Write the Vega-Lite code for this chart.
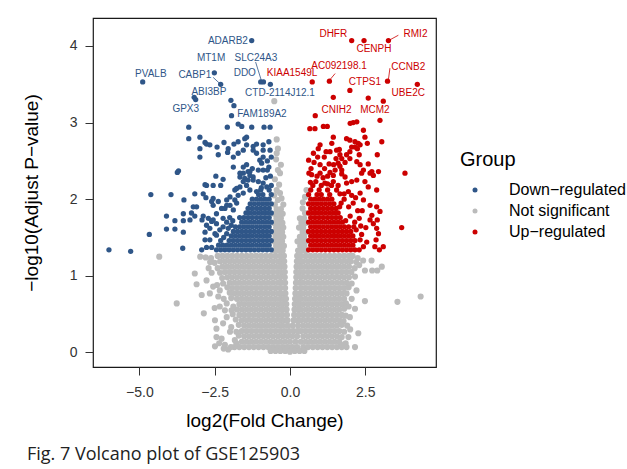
{
"$schema":"https://vega.github.io/schema/vega-lite/v6.json",
"width":343,"height":349,
"autosize":{"type":"none"},
"padding":{"left":93,"top":18,"right":191,"bottom":102},
"background":"white",
"config":{"view":{"stroke":"#1a1a1a","strokeWidth":1.2},"font":"Liberation Sans",
"axisX":{"tickSize":8,"tickColor":"#333","labelFontSize":14,"labelColor":"#333","labelPadding":10,"labelFont":"Liberation Sans","titleFont":"Liberation Sans","titleFontSize":19,"titleFontWeight":"normal","titleColor":"black","titlePadding":12,"domain":false,"grid":false},
"axisY":{"tickSize":8,"tickColor":"#333","labelFontSize":14,"labelColor":"#333","labelPadding":8,"labelFont":"Liberation Sans","titleFont":"Liberation Sans","titleFontSize":19,"titleFontWeight":"normal","titleColor":"black","titlePadding":28,"domain":false,"grid":false}},
"title":{"text":"Fig. 7  Volcano plot of GSE125903","orient":"bottom","anchor":"start","frame":"group","dx":-66,"offset":16,"font":"Open Sans","fontSize":18,"fontWeight":"normal","color":"#222"},
"datasets":{
"ns":[
{"x":-2.4,"y":1.26},{"x":-2.24,"y":1.26},{"x":-2.08,"y":1.26},{"x":-1.92,"y":1.26},{"x":-1.76,"y":1.26},{"x":-1.6,"y":1.26},{"x":-1.44,"y":1.26},{"x":-1.28,"y":1.26},{"x":-1.12,"y":1.26},{"x":-0.96,"y":1.26},{"x":-0.8,"y":1.26},{"x":-0.64,"y":1.26},{"x":-0.48,"y":1.26},{"x":-0.32,"y":1.26},{"x":-0.2,"y":1.26},{"x":0.24,"y":1.26},{"x":0.36,"y":1.26},{"x":0.52,"y":1.26},{"x":0.68,"y":1.26},{"x":0.84,"y":1.26},{"x":1.0,"y":1.26},{"x":1.16,"y":1.26},{"x":1.32,"y":1.26},{"x":1.48,"y":1.26},{"x":1.64,"y":1.26},{"x":1.8,"y":1.26},{"x":1.96,"y":1.26},{"x":2.08,"y":1.26},
{"x":-2.32,"y":1.19},{"x":-2.16,"y":1.19},{"x":-2.0,"y":1.19},{"x":-1.84,"y":1.19},{"x":-1.68,"y":1.19},{"x":-1.52,"y":1.19},{"x":-1.36,"y":1.19},{"x":-1.2,"y":1.19},{"x":-1.04,"y":1.19},{"x":-0.88,"y":1.19},{"x":-0.72,"y":1.19},{"x":-0.56,"y":1.19},{"x":-0.4,"y":1.19},{"x":-0.28,"y":1.19},{"x":-0.19,"y":1.19},{"x":0.23,"y":1.19},{"x":0.32,"y":1.19},{"x":0.44,"y":1.19},{"x":0.6,"y":1.19},{"x":0.76,"y":1.19},{"x":0.92,"y":1.19},{"x":1.08,"y":1.19},{"x":1.24,"y":1.19},{"x":1.4,"y":1.19},{"x":1.56,"y":1.19},{"x":1.72,"y":1.19},{"x":1.88,"y":1.19},{"x":2.02,"y":1.19},
{"x":-2.24,"y":1.12},{"x":-2.08,"y":1.12},{"x":-1.92,"y":1.12},{"x":-1.76,"y":1.12},{"x":-1.6,"y":1.12},{"x":-1.44,"y":1.12},{"x":-1.28,"y":1.12},{"x":-1.12,"y":1.12},{"x":-0.96,"y":1.12},{"x":-0.8,"y":1.12},{"x":-0.64,"y":1.12},{"x":-0.48,"y":1.12},{"x":-0.32,"y":1.12},{"x":-0.18,"y":1.12},{"x":0.22,"y":1.12},{"x":0.36,"y":1.12},{"x":0.52,"y":1.12},{"x":0.68,"y":1.12},{"x":0.84,"y":1.12},{"x":1.0,"y":1.12},{"x":1.16,"y":1.12},{"x":1.32,"y":1.12},{"x":1.48,"y":1.12},{"x":1.64,"y":1.12},{"x":1.8,"y":1.12},{"x":1.96,"y":1.12},
{"x":-2.16,"y":1.05},{"x":-2.0,"y":1.05},{"x":-1.84,"y":1.05},{"x":-1.68,"y":1.05},{"x":-1.52,"y":1.05},{"x":-1.36,"y":1.05},{"x":-1.2,"y":1.05},{"x":-1.04,"y":1.05},{"x":-0.88,"y":1.05},{"x":-0.72,"y":1.05},{"x":-0.56,"y":1.05},{"x":-0.4,"y":1.05},{"x":-0.28,"y":1.05},{"x":-0.17,"y":1.05},{"x":0.21,"y":1.05},{"x":0.32,"y":1.05},{"x":0.44,"y":1.05},{"x":0.6,"y":1.05},{"x":0.76,"y":1.05},{"x":0.92,"y":1.05},{"x":1.08,"y":1.05},{"x":1.24,"y":1.05},{"x":1.4,"y":1.05},{"x":1.56,"y":1.05},{"x":1.72,"y":1.05},{"x":1.88,"y":1.05},{"x":2.04,"y":1.05},
{"x":-2.08,"y":0.98},{"x":-1.92,"y":0.98},{"x":-1.76,"y":0.98},{"x":-1.6,"y":0.98},{"x":-1.44,"y":0.98},{"x":-1.28,"y":0.98},{"x":-1.12,"y":0.98},{"x":-0.96,"y":0.98},{"x":-0.8,"y":0.98},{"x":-0.64,"y":0.98},{"x":-0.48,"y":0.98},{"x":-0.32,"y":0.98},{"x":-0.17,"y":0.98},{"x":0.21,"y":0.98},{"x":0.36,"y":0.98},{"x":0.52,"y":0.98},{"x":0.68,"y":0.98},{"x":0.84,"y":0.98},{"x":1.0,"y":0.98},{"x":1.16,"y":0.98},{"x":1.32,"y":0.98},{"x":1.48,"y":0.98},{"x":1.64,"y":0.98},{"x":1.8,"y":0.98},{"x":1.96,"y":0.98},
{"x":-2.0,"y":0.91},{"x":-1.84,"y":0.91},{"x":-1.68,"y":0.91},{"x":-1.52,"y":0.91},{"x":-1.36,"y":0.91},{"x":-1.2,"y":0.91},{"x":-1.04,"y":0.91},{"x":-0.88,"y":0.91},{"x":-0.72,"y":0.91},{"x":-0.56,"y":0.91},{"x":-0.4,"y":0.91},{"x":-0.28,"y":0.91},{"x":-0.16,"y":0.91},{"x":0.2,"y":0.91},{"x":0.32,"y":0.91},{"x":0.44,"y":0.91},{"x":0.6,"y":0.91},{"x":0.76,"y":0.91},{"x":0.92,"y":0.91},{"x":1.08,"y":0.91},{"x":1.24,"y":0.91},{"x":1.4,"y":0.91},{"x":1.56,"y":0.91},{"x":1.72,"y":0.91},{"x":1.88,"y":0.91},
{"x":-1.92,"y":0.84},{"x":-1.76,"y":0.84},{"x":-1.6,"y":0.84},{"x":-1.44,"y":0.84},{"x":-1.28,"y":0.84},{"x":-1.12,"y":0.84},{"x":-0.96,"y":0.84},{"x":-0.8,"y":0.84},{"x":-0.64,"y":0.84},{"x":-0.48,"y":0.84},{"x":-0.32,"y":0.84},{"x":-0.16,"y":0.84},{"x":0.19,"y":0.84},{"x":0.36,"y":0.84},{"x":0.52,"y":0.84},{"x":0.68,"y":0.84},{"x":0.84,"y":0.84},{"x":1.0,"y":0.84},{"x":1.16,"y":0.84},{"x":1.32,"y":0.84},{"x":1.48,"y":0.84},{"x":1.64,"y":0.84},{"x":1.8,"y":0.84},
{"x":-1.84,"y":0.77},{"x":-1.68,"y":0.77},{"x":-1.52,"y":0.77},{"x":-1.36,"y":0.77},{"x":-1.2,"y":0.77},{"x":-1.04,"y":0.77},{"x":-0.88,"y":0.77},{"x":-0.72,"y":0.77},{"x":-0.56,"y":0.77},{"x":-0.4,"y":0.77},{"x":-0.28,"y":0.77},{"x":-0.15,"y":0.77},{"x":0.18,"y":0.77},{"x":0.32,"y":0.77},{"x":0.44,"y":0.77},{"x":0.6,"y":0.77},{"x":0.76,"y":0.77},{"x":0.92,"y":0.77},{"x":1.08,"y":0.77},{"x":1.24,"y":0.77},{"x":1.4,"y":0.77},{"x":1.56,"y":0.77},{"x":1.72,"y":0.77},{"x":1.88,"y":0.77},
{"x":-1.76,"y":0.7},{"x":-1.6,"y":0.7},{"x":-1.44,"y":0.7},{"x":-1.28,"y":0.7},{"x":-1.12,"y":0.7},{"x":-0.96,"y":0.7},{"x":-0.8,"y":0.7},{"x":-0.64,"y":0.7},{"x":-0.48,"y":0.7},{"x":-0.32,"y":0.7},{"x":-0.2,"y":0.7},{"x":-0.13,"y":0.7},{"x":0.17,"y":0.7},{"x":0.25,"y":0.7},{"x":0.36,"y":0.7},{"x":0.52,"y":0.7},{"x":0.68,"y":0.7},{"x":0.84,"y":0.7},{"x":1.0,"y":0.7},{"x":1.16,"y":0.7},{"x":1.32,"y":0.7},{"x":1.48,"y":0.7},{"x":1.64,"y":0.7},{"x":1.8,"y":0.7},
{"x":-1.68,"y":0.63},{"x":-1.52,"y":0.63},{"x":-1.36,"y":0.63},{"x":-1.2,"y":0.63},{"x":-1.04,"y":0.63},{"x":-0.88,"y":0.63},{"x":-0.72,"y":0.63},{"x":-0.56,"y":0.63},{"x":-0.4,"y":0.63},{"x":-0.26,"y":0.63},{"x":-0.12,"y":0.63},{"x":0.16,"y":0.63},{"x":0.3,"y":0.63},{"x":0.44,"y":0.63},{"x":0.6,"y":0.63},{"x":0.76,"y":0.63},{"x":0.92,"y":0.63},{"x":1.08,"y":0.63},{"x":1.24,"y":0.63},{"x":1.4,"y":0.63},{"x":1.56,"y":0.63},{"x":1.72,"y":0.63},
{"x":-1.76,"y":0.56},{"x":-1.6,"y":0.56},{"x":-1.44,"y":0.56},{"x":-1.28,"y":0.56},{"x":-1.12,"y":0.56},{"x":-0.96,"y":0.56},{"x":-0.8,"y":0.56},{"x":-0.64,"y":0.56},{"x":-0.48,"y":0.56},{"x":-0.32,"y":0.56},{"x":-0.2,"y":0.56},{"x":-0.11,"y":0.56},{"x":0.15,"y":0.56},{"x":0.25,"y":0.56},{"x":0.36,"y":0.56},{"x":0.52,"y":0.56},{"x":0.68,"y":0.56},{"x":0.84,"y":0.56},{"x":1.0,"y":0.56},{"x":1.16,"y":0.56},{"x":1.32,"y":0.56},{"x":1.48,"y":0.56},{"x":1.64,"y":0.56},
{"x":-1.68,"y":0.49},{"x":-1.52,"y":0.49},{"x":-1.36,"y":0.49},{"x":-1.2,"y":0.49},{"x":-1.04,"y":0.49},{"x":-0.88,"y":0.49},{"x":-0.72,"y":0.49},{"x":-0.56,"y":0.49},{"x":-0.4,"y":0.49},{"x":-0.26,"y":0.49},{"x":-0.1,"y":0.49},{"x":0.14,"y":0.49},{"x":0.29,"y":0.49},{"x":0.44,"y":0.49},{"x":0.6,"y":0.49},{"x":0.76,"y":0.49},{"x":0.92,"y":0.49},{"x":1.08,"y":0.49},{"x":1.24,"y":0.49},{"x":1.4,"y":0.49},{"x":1.56,"y":0.49},{"x":1.72,"y":0.49},
{"x":-1.6,"y":0.42},{"x":-1.44,"y":0.42},{"x":-1.28,"y":0.42},{"x":-1.12,"y":0.42},{"x":-0.96,"y":0.42},{"x":-0.8,"y":0.42},{"x":-0.64,"y":0.42},{"x":-0.48,"y":0.42},{"x":-0.32,"y":0.42},{"x":-0.19,"y":0.42},{"x":-0.08,"y":0.42},{"x":0.12,"y":0.42},{"x":0.24,"y":0.42},{"x":0.36,"y":0.42},{"x":0.52,"y":0.42},{"x":0.68,"y":0.42},{"x":0.84,"y":0.42},{"x":1.0,"y":0.42},{"x":1.16,"y":0.42},{"x":1.32,"y":0.42},{"x":1.48,"y":0.42},{"x":1.64,"y":0.42},
{"x":-1.52,"y":0.35},{"x":-1.36,"y":0.35},{"x":-1.2,"y":0.35},{"x":-1.04,"y":0.35},{"x":-0.88,"y":0.35},{"x":-0.72,"y":0.35},{"x":-0.56,"y":0.35},{"x":-0.4,"y":0.35},{"x":-0.25,"y":0.35},{"x":-0.08,"y":0.35},{"x":0.09,"y":0.35},{"x":0.27,"y":0.35},{"x":0.44,"y":0.35},{"x":0.6,"y":0.35},{"x":0.76,"y":0.35},{"x":0.92,"y":0.35},{"x":1.08,"y":0.35},{"x":1.24,"y":0.35},{"x":1.4,"y":0.35},{"x":1.56,"y":0.35},
{"x":-1.6,"y":0.28},{"x":-1.44,"y":0.28},{"x":-1.28,"y":0.28},{"x":-1.12,"y":0.28},{"x":-0.96,"y":0.28},{"x":-0.8,"y":0.28},{"x":-0.64,"y":0.28},{"x":-0.48,"y":0.28},{"x":-0.32,"y":0.28},{"x":-0.17,"y":0.28},{"x":-0.02,"y":0.28},{"x":0.12,"y":0.28},{"x":0.25,"y":0.28},{"x":0.36,"y":0.28},{"x":0.52,"y":0.28},{"x":0.68,"y":0.28},{"x":0.84,"y":0.28},{"x":1.0,"y":0.28},{"x":1.16,"y":0.28},{"x":1.32,"y":0.28},{"x":1.48,"y":0.28},{"x":1.64,"y":0.28},
{"x":-1.52,"y":0.21},{"x":-1.36,"y":0.21},{"x":-1.2,"y":0.21},{"x":-1.04,"y":0.21},{"x":-0.88,"y":0.21},{"x":-0.72,"y":0.21},{"x":-0.56,"y":0.21},{"x":-0.4,"y":0.21},{"x":-0.24,"y":0.21},{"x":-0.08,"y":0.21},{"x":0.08,"y":0.21},{"x":0.24,"y":0.21},{"x":0.44,"y":0.21},{"x":0.6,"y":0.21},{"x":0.76,"y":0.21},{"x":0.92,"y":0.21},{"x":1.08,"y":0.21},{"x":1.24,"y":0.21},{"x":1.4,"y":0.21},{"x":1.56,"y":0.21},
{"x":-1.6,"y":0.14},{"x":-1.44,"y":0.14},{"x":-1.28,"y":0.14},{"x":-1.12,"y":0.14},{"x":-0.96,"y":0.14},{"x":-0.8,"y":0.14},{"x":-0.64,"y":0.14},{"x":-0.48,"y":0.14},{"x":-0.32,"y":0.14},{"x":-0.16,"y":0.14},{"x":0.0,"y":0.14},{"x":0.18,"y":0.14},{"x":0.36,"y":0.14},{"x":0.52,"y":0.14},{"x":0.68,"y":0.14},{"x":0.84,"y":0.14},{"x":1.0,"y":0.14},{"x":1.16,"y":0.14},{"x":1.32,"y":0.14},{"x":1.48,"y":0.14},{"x":1.64,"y":0.14},
{"x":-1.84,"y":0.07},{"x":-1.68,"y":0.07},{"x":-1.52,"y":0.07},{"x":-1.36,"y":0.07},{"x":-1.2,"y":0.07},{"x":-1.04,"y":0.07},{"x":-0.88,"y":0.07},{"x":-0.72,"y":0.07},{"x":-0.56,"y":0.07},{"x":-0.4,"y":0.07},{"x":-0.24,"y":0.07},{"x":-0.08,"y":0.07},{"x":0.08,"y":0.07},{"x":0.24,"y":0.07},{"x":0.44,"y":0.07},{"x":0.6,"y":0.07},{"x":0.76,"y":0.07},{"x":0.92,"y":0.07},{"x":1.08,"y":0.07},{"x":1.24,"y":0.07},{"x":1.4,"y":0.07},{"x":1.56,"y":0.07},{"x":1.72,"y":0.07},
{"x":-0.64,"y":0.02},{"x":-0.48,"y":0.02},{"x":-0.32,"y":0.02},{"x":-0.16,"y":0.02},{"x":0.0,"y":0.01},{"x":0.16,"y":0.02},{"x":0.32,"y":0.02},{"x":0.48,"y":0.02},
{"x":-2.62,"y":1.23},{"x":-2.8,"y":1.24},{"x":-2.98,"y":1.25},{"x":-4.34,"y":1.25},{"x":-2.5,"y":1.17},{"x":-2.65,"y":1.18},{"x":-2.4,"y":1.1},{"x":-2.7,"y":1.1},{"x":-2.32,"y":1.04},{"x":-2.6,"y":1.04},{"x":-3.16,"y":1.03},{"x":-2.25,"y":0.97},{"x":-2.77,"y":0.94},{"x":-2.22,"y":0.9},{"x":-2.42,"y":0.88},{"x":-3.1,"y":0.89},{"x":-2.08,"y":0.85},{"x":-2.33,"y":0.81},{"x":-2.55,"y":0.86},{"x":-2.0,"y":0.78},{"x":-2.66,"y":0.77},{"x":-2.93,"y":0.75},{"x":-2.38,"y":0.73},{"x":-1.95,"y":0.71},{"x":-2.2,"y":0.7},{"x":-1.88,"y":0.6},{"x":-2.1,"y":0.64},{"x":-2.33,"y":0.6},{"x":-3.76,"y":0.64},{"x":-1.94,"y":0.55},{"x":-2.16,"y":0.55},{"x":-2.5,"y":0.58},{"x":-1.9,"y":0.5},{"x":-2.1,"y":0.46},{"x":-2.86,"y":0.51},{"x":-1.8,"y":0.43},{"x":-2.22,"y":0.38},{"x":-2.49,"y":0.42},{"x":-1.7,"y":0.36},{"x":-1.95,"y":0.33},{"x":-1.99,"y":0.27},{"x":-2.44,"y":0.31},{"x":-1.78,"y":0.27},{"x":-1.7,"y":0.22},{"x":-1.83,"y":0.16},{"x":-2.27,"y":0.18},{"x":-2.44,"y":0.2},{"x":-1.78,"y":0.12},{"x":-2.16,"y":0.1},{"x":-1.96,"y":0.07},{"x":-2.49,"y":0.08},{"x":-2.2,"y":0.05},{"x":-2.05,"y":0.04},{"x":-2.35,"y":0.12},
{"x":2.25,"y":1.23},{"x":2.43,"y":1.2},{"x":2.71,"y":1.2},{"x":2.2,"y":1.18},{"x":2.15,"y":1.1},{"x":2.3,"y":1.14},{"x":3.05,"y":1.12},{"x":2.49,"y":1.07},{"x":2.73,"y":1.07},{"x":2.9,"y":1.07},{"x":2.16,"y":0.99},{"x":2.05,"y":0.9},{"x":1.95,"y":0.85},{"x":2.21,"y":0.81},{"x":2.05,"y":0.7},{"x":2.49,"y":0.67},{"x":1.86,"y":0.64},{"x":3.57,"y":0.66},{"x":4.34,"y":0.73},{"x":1.8,"y":0.57},{"x":1.95,"y":0.6},{"x":2.16,"y":0.57},{"x":1.99,"y":0.46},{"x":1.85,"y":0.48},{"x":1.78,"y":0.41},{"x":1.72,"y":0.36},{"x":1.9,"y":0.35},{"x":2.0,"y":0.3},{"x":2.27,"y":0.25},{"x":1.8,"y":0.27},{"x":1.72,"y":0.2},{"x":1.94,"y":0.2},{"x":1.85,"y":0.12},{"x":1.88,"y":0.07},{"x":2.16,"y":0.07},{"x":1.7,"y":0.1},
{"x":-0.52,"y":1.33},{"x":-0.38,"y":1.33},{"x":-0.24,"y":1.33},{"x":-0.46,"y":1.39},{"x":-0.32,"y":1.39},{"x":-0.2,"y":1.39},{"x":-0.54,"y":1.45},{"x":-0.4,"y":1.45},{"x":-0.26,"y":1.45},{"x":-0.48,"y":1.51},{"x":-0.34,"y":1.51},{"x":-0.22,"y":1.51},{"x":-0.53,"y":1.57},{"x":-0.39,"y":1.57},{"x":-0.26,"y":1.57},{"x":-0.46,"y":1.63},{"x":-0.32,"y":1.63},{"x":-0.22,"y":1.63},{"x":-0.52,"y":1.69},{"x":-0.38,"y":1.69},{"x":-0.25,"y":1.69},{"x":-0.45,"y":1.75},{"x":-0.3,"y":1.75},{"x":-0.52,"y":1.81},{"x":-0.37,"y":1.81},{"x":-0.24,"y":1.81},{"x":-0.44,"y":1.87},{"x":-0.3,"y":1.87},{"x":-0.5,"y":1.93},{"x":-0.22,"y":1.93},{"x":-0.4,"y":1.99},{"x":-0.28,"y":2.01},{"x":-0.52,"y":2.05},{"x":-0.33,"y":2.08},{"x":-0.44,"y":2.12},{"x":-0.36,"y":2.19},{"x":-0.5,"y":2.26},{"x":-0.33,"y":2.34},{"x":-0.4,"y":2.38},{"x":-0.3,"y":2.45},{"x":-0.46,"y":2.52},{"x":-0.44,"y":2.6},{"x":-0.4,"y":2.66},{"x":-0.44,"y":2.78},{"x":-0.52,"y":3.28},
{"x":0.27,"y":1.33},{"x":0.41,"y":1.33},{"x":0.54,"y":1.33},{"x":0.34,"y":1.39},{"x":0.48,"y":1.39},{"x":0.25,"y":1.45},{"x":0.4,"y":1.45},{"x":0.53,"y":1.45},{"x":0.33,"y":1.51},{"x":0.47,"y":1.51},{"x":0.42,"y":1.57},{"x":0.54,"y":1.57},{"x":0.3,"y":1.63},{"x":0.44,"y":1.63},{"x":0.38,"y":1.69},{"x":0.52,"y":1.69},{"x":0.33,"y":1.75},{"x":0.47,"y":1.75},{"x":0.5,"y":1.82},{"x":0.42,"y":1.88},{"x":0.43,"y":1.96},{"x":0.5,"y":2.03},{"x":0.55,"y":2.12}
],
"down":[
{"x":-0.62,"y":1.34},{"x":-0.76,"y":1.34},{"x":-0.9,"y":1.34},{"x":-1.04,"y":1.34},{"x":-1.18,"y":1.34},{"x":-1.32,"y":1.34},{"x":-1.46,"y":1.34},{"x":-1.6,"y":1.34},{"x":-1.74,"y":1.34},{"x":-1.88,"y":1.34},{"x":-2.02,"y":1.34},{"x":-2.16,"y":1.34},{"x":-2.3,"y":1.34},{"x":-2.44,"y":1.34},
{"x":-0.69,"y":1.4},{"x":-0.83,"y":1.4},{"x":-0.97,"y":1.4},{"x":-1.11,"y":1.4},{"x":-1.25,"y":1.4},{"x":-1.39,"y":1.4},{"x":-1.53,"y":1.4},{"x":-1.67,"y":1.4},{"x":-1.81,"y":1.4},{"x":-1.95,"y":1.4},{"x":-2.09,"y":1.4},{"x":-2.23,"y":1.4},{"x":-2.37,"y":1.4},
{"x":-0.62,"y":1.46},{"x":-0.76,"y":1.46},{"x":-0.9,"y":1.46},{"x":-1.04,"y":1.46},{"x":-1.18,"y":1.46},{"x":-1.32,"y":1.46},{"x":-1.46,"y":1.46},{"x":-1.6,"y":1.46},{"x":-1.74,"y":1.46},{"x":-1.88,"y":1.46},{"x":-2.02,"y":1.46},
{"x":-0.69,"y":1.52},{"x":-0.83,"y":1.52},{"x":-0.97,"y":1.52},{"x":-1.11,"y":1.52},{"x":-1.25,"y":1.52},{"x":-1.39,"y":1.52},{"x":-1.53,"y":1.52},{"x":-1.67,"y":1.52},{"x":-1.81,"y":1.52},{"x":-1.95,"y":1.52},
{"x":-0.62,"y":1.58},{"x":-0.76,"y":1.58},{"x":-0.9,"y":1.58},{"x":-1.04,"y":1.58},{"x":-1.18,"y":1.58},{"x":-1.32,"y":1.58},{"x":-1.46,"y":1.58},{"x":-1.6,"y":1.58},{"x":-1.74,"y":1.58},{"x":-1.88,"y":1.58},
{"x":-0.69,"y":1.64},{"x":-0.83,"y":1.64},{"x":-0.97,"y":1.64},{"x":-1.11,"y":1.64},{"x":-1.25,"y":1.64},{"x":-1.39,"y":1.64},{"x":-1.53,"y":1.64},{"x":-1.67,"y":1.64},{"x":-1.81,"y":1.64},
{"x":-0.62,"y":1.7},{"x":-0.76,"y":1.7},{"x":-0.9,"y":1.7},{"x":-1.04,"y":1.7},{"x":-1.18,"y":1.7},{"x":-1.32,"y":1.7},{"x":-1.46,"y":1.7},{"x":-1.6,"y":1.7},
{"x":-0.69,"y":1.76},{"x":-0.83,"y":1.76},{"x":-0.97,"y":1.76},{"x":-1.11,"y":1.76},{"x":-1.25,"y":1.76},{"x":-1.39,"y":1.76},{"x":-1.53,"y":1.76},{"x":-1.67,"y":1.76},
{"x":-0.62,"y":1.82},{"x":-0.76,"y":1.82},{"x":-0.9,"y":1.82},{"x":-1.04,"y":1.82},{"x":-1.18,"y":1.82},{"x":-1.32,"y":1.82},{"x":-1.46,"y":1.82},
{"x":-0.69,"y":1.88},{"x":-0.83,"y":1.88},{"x":-0.97,"y":1.88},{"x":-1.11,"y":1.88},{"x":-1.25,"y":1.88},{"x":-1.39,"y":1.88},
{"x":-0.62,"y":1.94},{"x":-0.76,"y":1.94},{"x":-0.9,"y":1.94},{"x":-1.04,"y":1.94},{"x":-1.18,"y":1.94},{"x":-1.32,"y":1.94},
{"x":-0.69,"y":2.0},{"x":-0.83,"y":2.0},{"x":-0.97,"y":2.0},{"x":-1.11,"y":2.0},{"x":-1.25,"y":2.0},
{"x":-0.62,"y":2.06},{"x":-0.9,"y":2.06},{"x":-1.04,"y":2.06},{"x":-0.69,"y":2.12},{"x":-0.97,"y":2.12},{"x":-0.62,"y":2.18},
{"x":-1.27,"y":4.07},{"x":-4.89,"y":3.53},{"x":-2.51,"y":3.65},{"x":-2.3,"y":3.5},{"x":-3.18,"y":3.33},{"x":-3.13,"y":3.3},{"x":-0.97,"y":3.53},{"x":-0.88,"y":3.53},{"x":-0.65,"y":3.5},{"x":-1.96,"y":3.29},{"x":-1.86,"y":3.22},{"x":-1.94,"y":3.09},
{"x":-3.36,"y":2.94},{"x":-2.08,"y":2.94},{"x":-1.72,"y":2.98},{"x":-1.6,"y":2.95},{"x":-1.27,"y":2.94},{"x":-0.86,"y":2.94},{"x":-0.66,"y":2.94},
{"x":-3.36,"y":2.79},{"x":-2.99,"y":2.81},{"x":-2.82,"y":2.74},{"x":-2.77,"y":2.72},{"x":-2.42,"y":2.68},{"x":-2.19,"y":2.74},{"x":-2.05,"y":2.66},{"x":-1.86,"y":2.72},{"x":-1.72,"y":2.75},{"x":-1.5,"y":2.79},{"x":-1.44,"y":2.81},{"x":-1.22,"y":2.69},{"x":-1.11,"y":2.72},{"x":-0.89,"y":2.71},{"x":-0.7,"y":2.75},{"x":-1.44,"y":2.71},{"x":-2.66,"y":2.71},
{"x":-2.99,"y":2.66},{"x":-2.38,"y":2.58},{"x":-2.99,"y":2.55},{"x":-1.88,"y":2.55},{"x":-1.72,"y":2.6},{"x":-1.55,"y":2.64},{"x":-1.11,"y":2.6},{"x":-0.89,"y":2.64},{"x":-0.89,"y":2.55},{"x":-2.07,"y":2.61},{"x":-1.22,"y":2.64},{"x":-1.0,"y":2.51},
{"x":-0.94,"y":2.47},{"x":-0.89,"y":2.38},{"x":-0.75,"y":2.38},{"x":-2.46,"y":2.3},{"x":-2.22,"y":2.26},{"x":-1.88,"y":2.42},{"x":-3.74,"y":2.35},{"x":-3.7,"y":2.37},{"x":-1.44,"y":2.45},{"x":-1.55,"y":2.42},{"x":-1.39,"y":2.36},{"x":-1.55,"y":2.34},{"x":-1.66,"y":2.34},{"x":-1.33,"y":2.36},{"x":-1.22,"y":2.29},{"x":-1.05,"y":2.38},
{"x":-1.66,"y":2.29},{"x":-1.5,"y":2.27},{"x":-1.33,"y":2.31},{"x":-1.22,"y":2.25},{"x":-1.05,"y":2.23},{"x":-0.89,"y":2.21},{"x":-0.77,"y":2.16},{"x":-1.44,"y":2.18},{"x":-1.66,"y":2.16},{"x":-1.83,"y":2.12},{"x":-1.55,"y":2.23},{"x":-1.39,"y":2.25},{"x":-1.77,"y":2.14},{"x":-1.33,"y":2.12},{"x":-1.11,"y":2.1},{"x":-1.55,"y":2.08},
{"x":-1.72,"y":2.05},{"x":-1.99,"y":2.03},{"x":-1.83,"y":1.99},
{"x":-2.77,"y":2.18},{"x":-2.55,"y":2.18},{"x":-2.3,"y":2.18},{"x":-3.16,"y":2.07},{"x":-2.88,"y":2.07},{"x":-4.62,"y":2.06},{"x":-3.95,"y":2.06},{"x":-3.52,"y":1.99},{"x":-2.79,"y":2.02},{"x":-3.21,"y":1.9},{"x":-3.54,"y":1.81},{"x":-3.27,"y":1.82},{"x":-3.16,"y":1.78},{"x":-4.1,"y":1.78},{"x":-3.82,"y":1.72},{"x":-3.54,"y":1.72},{"x":-4.1,"y":1.61},{"x":-3.82,"y":1.61},{"x":-3.54,"y":1.57},{"x":-3.56,"y":1.36},{"x":-4.67,"y":1.54},{"x":-6.01,"y":1.34},{"x":-5.29,"y":1.32},{"x":-3.32,"y":1.73},{"x":-3.1,"y":1.9},{"x":-2.82,"y":2.19},{"x":-2.92,"y":1.73},{"x":-2.77,"y":1.66},{"x":-2.6,"y":1.97},
{"x":-2.88,"y":1.78},{"x":-2.71,"y":1.75},{"x":-2.6,"y":1.71},{"x":-2.44,"y":1.68},{"x":-2.66,"y":1.62},{"x":-2.82,"y":1.57},{"x":-2.49,"y":1.55},{"x":-2.33,"y":1.6},{"x":-2.22,"y":1.64},{"x":-2.55,"y":2.01},{"x":-2.38,"y":1.97},{"x":-2.1,"y":1.99},{"x":-1.99,"y":1.92},{"x":-2.16,"y":1.88},{"x":-1.77,"y":1.95},{"x":-1.88,"y":1.86},
{"x":-2.93,"y":1.34},{"x":-2.77,"y":1.37},{"x":-2.6,"y":1.37},{"x":-2.55,"y":1.73},{"x":-2.1,"y":1.55},{"x":-2.44,"y":1.53},{"x":-2.66,"y":1.47},{"x":-2.82,"y":1.47},{"x":-2.55,"y":1.92},{"x":-2.27,"y":1.88},{"x":-2.1,"y":1.92},{"x":-2.44,"y":1.81},{"x":-2.22,"y":1.75},
{"x":-2.1,"y":1.7},{"x":-2.0,"y":1.76},{"x":-1.95,"y":1.66},{"x":-2.05,"y":1.62},{"x":-1.9,"y":1.72},{"x":-2.2,"y":1.5},{"x":-2.3,"y":1.46},
{"x":-0.65,"y":2.3},{"x":-0.8,"y":2.28},{"x":-0.7,"y":2.42},{"x":-0.95,"y":2.15},{"x":-1.25,"y":2.4},{"x":-0.62,"y":2.55},{"x":-0.75,"y":2.5},{"x":-0.66,"y":2.64}
],
"up":[
{"x":0.62,"y":1.34},{"x":0.76,"y":1.34},{"x":0.9,"y":1.34},{"x":1.04,"y":1.34},{"x":1.18,"y":1.34},{"x":1.32,"y":1.34},{"x":1.46,"y":1.34},{"x":1.6,"y":1.34},{"x":1.74,"y":1.34},{"x":1.88,"y":1.34},{"x":2.02,"y":1.34},{"x":2.16,"y":1.34},{"x":2.3,"y":1.34},
{"x":0.69,"y":1.4},{"x":0.83,"y":1.4},{"x":0.97,"y":1.4},{"x":1.11,"y":1.4},{"x":1.25,"y":1.4},{"x":1.39,"y":1.4},{"x":1.53,"y":1.4},{"x":1.67,"y":1.4},{"x":1.81,"y":1.4},{"x":1.95,"y":1.4},{"x":2.09,"y":1.4},
{"x":0.62,"y":1.46},{"x":0.76,"y":1.46},{"x":0.9,"y":1.46},{"x":1.04,"y":1.46},{"x":1.18,"y":1.46},{"x":1.32,"y":1.46},{"x":1.46,"y":1.46},{"x":1.6,"y":1.46},{"x":1.74,"y":1.46},{"x":1.88,"y":1.46},{"x":2.02,"y":1.46},{"x":2.16,"y":1.46},
{"x":0.69,"y":1.52},{"x":0.83,"y":1.52},{"x":0.97,"y":1.52},{"x":1.11,"y":1.52},{"x":1.25,"y":1.52},{"x":1.39,"y":1.52},{"x":1.53,"y":1.52},{"x":1.67,"y":1.52},{"x":1.81,"y":1.52},{"x":1.95,"y":1.52},{"x":2.09,"y":1.52},
{"x":0.62,"y":1.58},{"x":0.76,"y":1.58},{"x":0.9,"y":1.58},{"x":1.04,"y":1.58},{"x":1.18,"y":1.58},{"x":1.32,"y":1.58},{"x":1.46,"y":1.58},{"x":1.6,"y":1.58},{"x":1.74,"y":1.58},{"x":1.88,"y":1.58},{"x":2.02,"y":1.58},
{"x":0.69,"y":1.64},{"x":0.83,"y":1.64},{"x":0.97,"y":1.64},{"x":1.11,"y":1.64},{"x":1.25,"y":1.64},{"x":1.39,"y":1.64},{"x":1.53,"y":1.64},{"x":1.67,"y":1.64},{"x":1.81,"y":1.64},{"x":1.95,"y":1.64},
{"x":0.62,"y":1.7},{"x":0.76,"y":1.7},{"x":0.9,"y":1.7},{"x":1.04,"y":1.7},{"x":1.18,"y":1.7},{"x":1.32,"y":1.7},{"x":1.46,"y":1.7},{"x":1.6,"y":1.7},{"x":1.74,"y":1.7},
{"x":0.69,"y":1.76},{"x":0.83,"y":1.76},{"x":0.97,"y":1.76},{"x":1.11,"y":1.76},{"x":1.25,"y":1.76},{"x":1.39,"y":1.76},{"x":1.53,"y":1.76},{"x":1.67,"y":1.76},
{"x":0.62,"y":1.82},{"x":0.76,"y":1.82},{"x":0.9,"y":1.82},{"x":1.04,"y":1.82},{"x":1.18,"y":1.82},{"x":1.32,"y":1.82},{"x":1.46,"y":1.82},{"x":1.6,"y":1.82},
{"x":0.69,"y":1.88},{"x":0.83,"y":1.88},{"x":0.97,"y":1.88},{"x":1.11,"y":1.88},{"x":1.25,"y":1.88},{"x":1.39,"y":1.88},{"x":1.53,"y":1.88},
{"x":0.62,"y":1.94},{"x":0.76,"y":1.94},{"x":0.9,"y":1.94},{"x":1.04,"y":1.94},{"x":1.18,"y":1.94},{"x":1.32,"y":1.94},{"x":1.46,"y":1.94},
{"x":0.69,"y":2.0},{"x":0.83,"y":2.0},{"x":0.97,"y":2.0},{"x":1.11,"y":2.0},{"x":1.25,"y":2.0},{"x":1.39,"y":2.0},
{"x":0.62,"y":2.06},{"x":0.9,"y":2.06},{"x":1.04,"y":2.06},{"x":1.32,"y":2.06},{"x":0.69,"y":2.12},{"x":0.97,"y":2.12},{"x":1.25,"y":2.12},{"x":0.76,"y":2.18},{"x":1.04,"y":2.18},
{"x":2.05,"y":4.07},{"x":2.46,"y":4.07},{"x":3.27,"y":4.07},{"x":0.74,"y":3.53},{"x":1.31,"y":3.54},{"x":3.24,"y":3.54},{"x":4.23,"y":3.5},{"x":1.99,"y":3.42},{"x":1.44,"y":3.33},{"x":2.6,"y":3.32},{"x":3.1,"y":3.28},{"x":0.84,"y":3.09},{"x":2.99,"y":3.03},{"x":2.22,"y":3.01},{"x":2.1,"y":3.0},{"x":2.0,"y":2.99},{"x":0.66,"y":2.92},{"x":0.83,"y":2.92},{"x":1.11,"y":2.95},{"x":1.24,"y":2.95},{"x":2.44,"y":2.9},{"x":2.49,"y":2.81},{"x":1.88,"y":2.79},{"x":1.99,"y":2.77},{"x":2.16,"y":2.75},{"x":2.27,"y":2.73},{"x":2.05,"y":2.68},{"x":2.33,"y":2.71},{"x":1.0,"y":2.71},{"x":0.94,"y":2.66},{"x":1.39,"y":2.73},{"x":1.33,"y":2.62},{"x":1.55,"y":2.64},{"x":1.66,"y":2.58},{"x":2.9,"y":2.58},{"x":2.57,"y":2.73},{"x":3.05,"y":2.75},{"x":2.16,"y":2.68},{"x":1.64,"y":2.65},{"x":1.99,"y":2.62},{"x":2.24,"y":2.66},{"x":2.3,"y":2.58},{"x":1.88,"y":2.58},{"x":1.72,"y":2.53},{"x":1.53,"y":2.53},{"x":1.99,"y":2.53},{"x":0.92,"y":2.55},{"x":1.14,"y":2.55},{"x":1.0,"y":2.45},{"x":1.6,"y":2.47},{"x":1.83,"y":2.48},{"x":1.66,"y":2.43},{"x":1.72,"y":2.38},{"x":2.22,"y":2.49},{"x":2.33,"y":2.45},{"x":2.6,"y":2.46},{"x":2.44,"y":2.38},{"x":2.72,"y":2.36},{"x":2.94,"y":2.36},{"x":3.82,"y":2.34},{"x":0.72,"y":2.32},{"x":1.0,"y":2.34},{"x":1.33,"y":2.35},{"x":1.44,"y":2.31},{"x":1.72,"y":2.33},{"x":1.83,"y":2.29},{"x":2.38,"y":2.34},{"x":2.66,"y":2.34},{"x":2.77,"y":2.31},{"x":0.86,"y":2.23},{"x":1.16,"y":2.21},{"x":1.44,"y":2.23},{"x":1.6,"y":2.18},{"x":1.88,"y":2.21},{"x":2.05,"y":2.23},{"x":2.22,"y":2.25},{"x":2.49,"y":2.23},{"x":2.6,"y":2.16},{"x":2.88,"y":2.12},{"x":1.55,"y":2.12},{"x":1.66,"y":2.07},{"x":1.94,"y":2.1},{"x":2.05,"y":2.05},{"x":2.33,"y":2.08},{"x":2.44,"y":1.99},{"x":2.66,"y":1.92},{"x":2.88,"y":1.9},{"x":2.99,"y":1.84},{"x":2.72,"y":1.79},{"x":2.66,"y":1.73},{"x":2.52,"y":1.63},{"x":2.38,"y":1.54},{"x":2.33,"y":1.47},{"x":2.44,"y":1.38},{"x":2.88,"y":1.62},{"x":2.94,"y":1.55},{"x":2.86,"y":1.47},{"x":2.82,"y":1.38},{"x":3.71,"y":1.63},{"x":3.1,"y":1.38},{"x":2.9,"y":1.73},{"x":2.77,"y":1.68},{"x":2.97,"y":1.34},{"x":2.55,"y":1.44},{"x":1.44,"y":2.81},
{"x":1.85,"y":1.72},{"x":2.0,"y":1.78},{"x":2.15,"y":1.7},{"x":1.95,"y":1.9},{"x":2.1,"y":1.95},{"x":2.25,"y":1.85},{"x":1.8,"y":2.0},{"x":2.2,"y":1.6},{"x":2.3,"y":1.75},{"x":2.4,"y":1.85},{"x":2.35,"y":1.65},{"x":1.7,"y":1.95},{"x":1.8,"y":2.07},{"x":2.18,"y":2.02},{"x":1.65,"y":1.9},{"x":2.12,"y":1.64},
{"x":0.7,"y":2.4},{"x":0.8,"y":2.48},{"x":1.15,"y":2.4},{"x":1.25,"y":2.3},{"x":0.9,"y":2.3},{"x":1.3,"y":2.46},{"x":0.68,"y":2.22},{"x":1.2,"y":2.62},{"x":0.78,"y":2.6},{"x":1.45,"y":2.45},{"x":1.5,"y":2.38},{"x":1.1,"y":2.28},{"x":1.38,"y":2.18},{"x":1.25,"y":2.2},{"x":0.62,"y":2.51},{"x":0.63,"y":2.34}
],
"lab_down":[
{"gene":"ADARB2","x":-2.06,"y":4.06},{"gene":"MT1M","x":-2.62,"y":3.84},{"gene":"SLC24A3","x":-1.13,"y":3.84},{"gene":"PVALB","x":-4.62,"y":3.63},{"gene":"CABP1","x":-3.16,"y":3.62},{"gene":"DDO","x":-1.5,"y":3.65},{"gene":"ABI3BP","x":-2.69,"y":3.4},{"gene":"CTD-2114J12.1","x":-0.33,"y":3.38},{"gene":"GPX3","x":-3.46,"y":3.18},{"gene":"FAM189A2","x":-0.93,"y":3.11}
],
"lab_up":[
{"gene":"DHFR","x":1.44,"y":4.16},{"gene":"RMI2","x":4.17,"y":4.16},{"gene":"CENPH","x":2.79,"y":3.96},{"gene":"KIAA1549L","x":0.07,"y":3.65},{"gene":"AC092198.1","x":1.63,"y":3.74},{"gene":"CCNB2","x":3.93,"y":3.73},{"gene":"CTPS1","x":2.49,"y":3.53},{"gene":"UBE2C","x":3.93,"y":3.39},{"gene":"CNIH2","x":1.55,"y":3.17},{"gene":"MCM2","x":2.82,"y":3.17}
],
"seg_down":[{"x":-2.55,"y":3.59,"x2":-2.33,"y2":3.51},{"x":-1.14,"y":3.79,"x2":-0.95,"y2":3.55}],
"seg_up":[{"x":3.32,"y":4.08,"x2":3.6,"y2":4.14},{"x":3.27,"y":3.56,"x2":3.32,"y2":3.71},{"x":1.33,"y":3.56,"x2":1.5,"y2":3.64}]
},
"layer":[
{"data":{"name":"ns"},"mark":{"type":"circle","size":38,"opacity":1},
 "encoding":{
  "x":{"field":"x","type":"quantitative","title":"log2(Fold Change)","scale":{"domain":[-6.54,4.85],"nice":false,"zero":false},"axis":{"values":[-5,-2.5,0,2.5],"format":".1f"}},
  "y":{"field":"y","type":"quantitative","title":"−log10(Adjust P−value)","scale":{"domain":[-0.19,4.365],"nice":false,"zero":false},"axis":{"values":[0,1,2,3,4],"format":"d"}},
  "color":{"datum":"Not significant","type":"nominal","scale":{"domain":["Down−regulated","Not significant","Up−regulated"],"range":["#2F5688","#BBBBBB","#CC0000"]},
   "legend":{"title":"Group","orient":"none","legendX":367,"legendY":132,"titleFont":"Liberation Sans","titleFontSize":20,"titleFontWeight":"normal","titleColor":"black","labelFont":"Liberation Sans","labelFontSize":16,"labelColor":"black","symbolType":"circle","symbolSize":25,"symbolStrokeWidth":0,"symbolOffset":7,"labelOffset":26,"rowPadding":5,"titlePadding":12,"padding":0}}}},
{"data":{"name":"down"},"mark":{"type":"circle","size":28,"opacity":1},
 "encoding":{"x":{"field":"x","type":"quantitative","title":"log2(Fold Change)"},"y":{"field":"y","type":"quantitative","title":"−log10(Adjust P−value)"},"color":{"datum":"Down−regulated","type":"nominal"}}},
{"data":{"name":"up"},"mark":{"type":"circle","size":28,"opacity":1},
 "encoding":{"x":{"field":"x","type":"quantitative","title":"log2(Fold Change)"},"y":{"field":"y","type":"quantitative","title":"−log10(Adjust P−value)"},"color":{"datum":"Up−regulated","type":"nominal"}}},
{"mark":{"type":"rule","strokeDash":[5,4],"color":"#222","strokeWidth":1.2},"encoding":{"x":{"datum":-0.585}}},
{"mark":{"type":"rule","strokeDash":[5,4],"color":"#222","strokeWidth":1.2},"encoding":{"x":{"datum":0.585}}},
{"mark":{"type":"rule","strokeDash":[5,4],"color":"#222","strokeWidth":1.2},"encoding":{"y":{"datum":1.301}}},
{"data":{"name":"seg_down"},"mark":{"type":"rule","color":"#2F5688","strokeWidth":0.8},
 "encoding":{"x":{"field":"x","type":"quantitative","title":"log2(Fold Change)"},"y":{"field":"y","type":"quantitative","title":"−log10(Adjust P−value)"},"x2":{"field":"x2"},"y2":{"field":"y2"}}},
{"data":{"name":"seg_up"},"mark":{"type":"rule","color":"#CC0000","strokeWidth":0.8},
 "encoding":{"x":{"field":"x","type":"quantitative","title":"log2(Fold Change)"},"y":{"field":"y","type":"quantitative","title":"−log10(Adjust P−value)"},"x2":{"field":"x2"},"y2":{"field":"y2"}}},
{"data":{"name":"lab_down"},"mark":{"type":"text","font":"Liberation Sans","fontSize":10,"color":"#2F5688","align":"center","baseline":"middle"},
 "encoding":{"x":{"field":"x","type":"quantitative","title":"log2(Fold Change)"},"y":{"field":"y","type":"quantitative","title":"−log10(Adjust P−value)"},"text":{"field":"gene"}}},
{"data":{"name":"lab_up"},"mark":{"type":"text","font":"Liberation Sans","fontSize":10,"color":"#CC0000","align":"center","baseline":"middle"},
 "encoding":{"x":{"field":"x","type":"quantitative","title":"log2(Fold Change)"},"y":{"field":"y","type":"quantitative","title":"−log10(Adjust P−value)"},"text":{"field":"gene"}}}
]
}
